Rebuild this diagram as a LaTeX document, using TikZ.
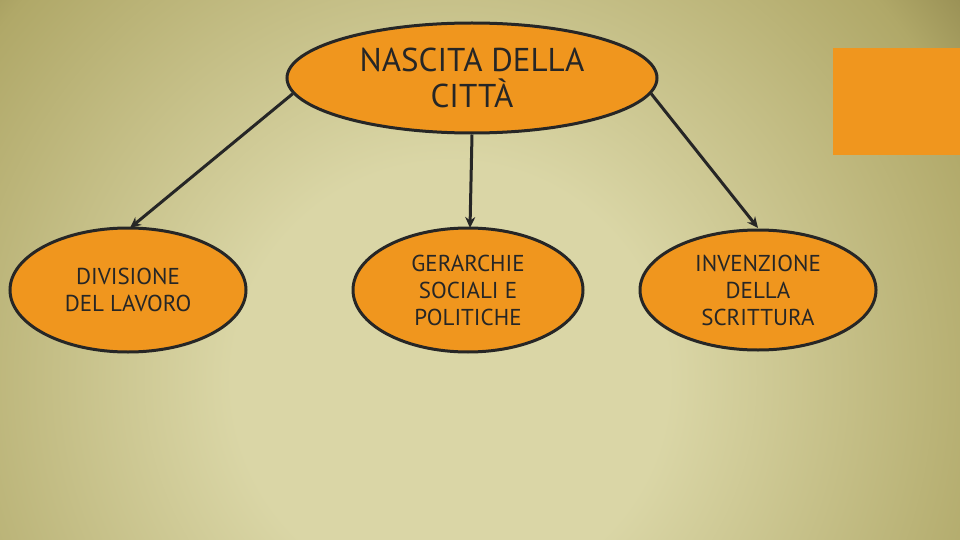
\documentclass[tikz,border=0pt]{standalone}
\usepackage{fontspec}
\setmainfont{PT Sans}
\usetikzlibrary{shapes.geometric,arrows.meta}
\definecolor{org}{HTML}{F0961E}
\definecolor{bglight}{HTML}{DAD6A6}
\definecolor{bgmid}{HTML}{B0A868}
\definecolor{bgdeep}{HTML}{605424}
\pgfdeclareradialshading{bgshade}{\pgfpoint{0bp}{0bp}}{color(0bp)=(bglight); color(8bp)=(bglight); color(21bp)=(bgmid); color(30bp)=(bgdeep); color(50bp)=(bgdeep)}
\tikzset{
  bubble/.style={ellipse, draw=black!85, line width=3pt, fill=org, align=center, text=black!85, inner sep=0pt},
  conn/.style={-{Stealth[length=11pt,width=10pt]}, line width=3pt, draw=black!85}
}
\begin{document}
\begin{tikzpicture}[x=1pt,y=-1pt]
\useasboundingbox (0,0) rectangle (960,540);
\begin{scope}
\clip (0,0) rectangle (960,540);
\shade[shading=bgshade] (-230,-300) rectangle (1130,1060);
\end{scope}
\fill[org] (833,48) rectangle (960,155);
\node[bubble, minimum width=370, minimum height=110, font=\fontsize{33}{36}\selectfont] (top) at (472,78) {NASCITA DELLA\\CITTÀ};
\node[bubble, minimum width=236, minimum height=124, font=\fontsize{23}{27}\selectfont] (l) at (128,290) {DIVISIONE\\DEL LAVORO};
\node[bubble, minimum width=230, minimum height=124, font=\fontsize{23}{27}\selectfont] (m) at (468,290) {GERARCHIE\\SOCIALI E\\POLITICHE};
\node[bubble, minimum width=236, minimum height=120, font=\fontsize{23}{27}\selectfont] (r) at (758,290) {INVENZIONE\\DELLA\\SCRITTURA};
\coordinate (lt) at (130,228);
\coordinate (mt) at (470,228);
\coordinate (rt) at (758,228);
\draw[conn] (top.185) -- (lt);
\draw[conn] (top.south) -- (mt);
\draw[conn] (top.-5) -- (rt);
\end{tikzpicture}
\end{document}
